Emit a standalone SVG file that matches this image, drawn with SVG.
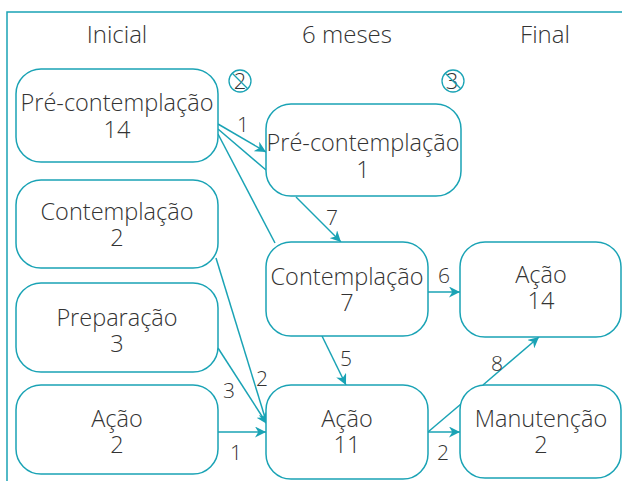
<svg xmlns="http://www.w3.org/2000/svg" width="622" height="481" viewBox="0 0 622 481">
<defs>
<marker id="ah" viewBox="0 0 10 10" refX="10" refY="5" markerWidth="11" markerHeight="11" markerUnits="userSpaceOnUse" orient="auto">
<path d="M0,0 L10,5 L0,10 L3,5 Z" fill="#1aa3b5"/>
</marker>
<style>
.box{fill:#fff;stroke:#1aa3b5;stroke-width:1.5}
.t{font-family:"Open Sans","Noto Sans",sans-serif;font-size:23.5px;font-weight:300;fill:#333;text-anchor:middle}
.h{font-family:"Open Sans","Noto Sans",sans-serif;font-size:24px;font-weight:300;fill:#333;text-anchor:middle}
.l{font-family:"Open Sans","Noto Sans",sans-serif;font-size:21px;font-weight:300;fill:#333;text-anchor:middle}
.c{font-family:"Open Sans","Noto Sans",sans-serif;font-size:22px;font-weight:300;fill:#333;text-anchor:middle}
.e{fill:none;stroke:#1aa3b5;stroke-width:1.5}
.a{marker-end:url(#ah)}
</style>
</defs>
<rect width="622" height="481" fill="#fff"/>
<path d="M7,481 V12 H622" fill="none" stroke="#1aa3b5" stroke-width="1.5"/>
<text class="h" x="117" y="43">Inicial</text>
<text class="h" x="347" y="43">6 meses</text>
<text class="h" x="545" y="43">Final</text>
<g id="mark2">
<circle cx="240" cy="81" r="11" fill="none" stroke="#1aa3b5" stroke-width="1.3"/>
<text class="c" x="240" y="89">2</text>
<line x1="232" y1="73" x2="248" y2="89" stroke="#1aa3b5" stroke-width="1.3"/>
</g>
<g id="mark3">
<circle cx="453" cy="81" r="11" fill="none" stroke="#1aa3b5" stroke-width="1.3"/>
<text class="c" x="452" y="89">3</text>
<line x1="445" y1="73" x2="461" y2="89" stroke="#1aa3b5" stroke-width="1.3"/>
</g>
<g id="connectors">
<line class="e a" x1="218" y1="124" x2="266" y2="152"/>
<line class="e" x1="218" y1="129" x2="266" y2="170"/>
<line class="e" x1="218" y1="134" x2="275" y2="243"/>
<line class="e a" x1="296" y1="197" x2="341" y2="242"/>
<line class="e a" x1="216" y1="258" x2="267" y2="424"/>
<line class="e a" x1="218" y1="348" x2="267" y2="424"/>
<line class="e a" x1="218" y1="432" x2="266" y2="432"/>
<line class="e a" x1="322" y1="336" x2="346" y2="385"/>
<line class="e a" x1="428" y1="292" x2="460" y2="292"/>
<line class="e a" x1="428" y1="432" x2="460" y2="432"/>
<line class="e" x1="428" y1="432" x2="461" y2="404"/>
<line class="e a" x1="483" y1="385" x2="539" y2="337"/>
<text class="l" x="243" y="132">1</text>
<text class="l" x="332" y="225">7</text>
<text class="l" x="262" y="386">2</text>
<text class="l" x="229" y="398">3</text>
<text class="l" x="236" y="460">1</text>
<text class="l" x="346" y="366">5</text>
<text class="l" x="444" y="283">6</text>
<text class="l" x="443" y="460">2</text>
<text class="l" x="497" y="371">8</text>
</g>
<g id="n1"><rect class="box" x="16" y="69" width="202" height="93" rx="25"/><text class="t" x="117" y="111">Pré-contemplação<tspan x="117" dy="27">14</tspan></text></g>
<g id="n2"><rect class="box" x="16" y="180" width="202" height="88" rx="25"/><text class="t" x="117" y="220">Contemplação<tspan x="117" dy="26">2</tspan></text></g>
<g id="n3"><rect class="box" x="16" y="283" width="202" height="89" rx="25"/><text class="t" x="117" y="326">Preparação<tspan x="117" dy="26">3</tspan></text></g>
<g id="n4"><rect class="box" x="16" y="385" width="202" height="89" rx="25"/><text class="t" x="117" y="427">Ação<tspan x="117" dy="26">2</tspan></text></g>
<g id="n5"><rect class="box" x="266" y="104" width="195" height="92" rx="25"/><text class="t" x="363" y="151">Pré-contemplação<tspan x="363" dy="27">1</tspan></text></g>
<g id="n6"><rect class="box" x="266" y="242" width="162" height="94" rx="25"/><text class="t" x="347" y="285">Contemplação<tspan x="347" dy="26">7</tspan></text></g>
<g id="n7"><rect class="box" x="266" y="385" width="162" height="94" rx="25"/><text class="t" x="347" y="427">Ação<tspan x="347" dy="26">11</tspan></text></g>
<g id="n8"><rect class="box" x="460" y="242" width="161" height="95" rx="25"/><text class="t" x="541" y="283">Ação<tspan x="541" dy="26">14</tspan></text></g>
<g id="n9"><rect class="box" x="460" y="385" width="161" height="93" rx="25"/><text class="t" x="541" y="427">Manutenção<tspan x="541" dy="26">2</tspan></text></g>
</svg>
